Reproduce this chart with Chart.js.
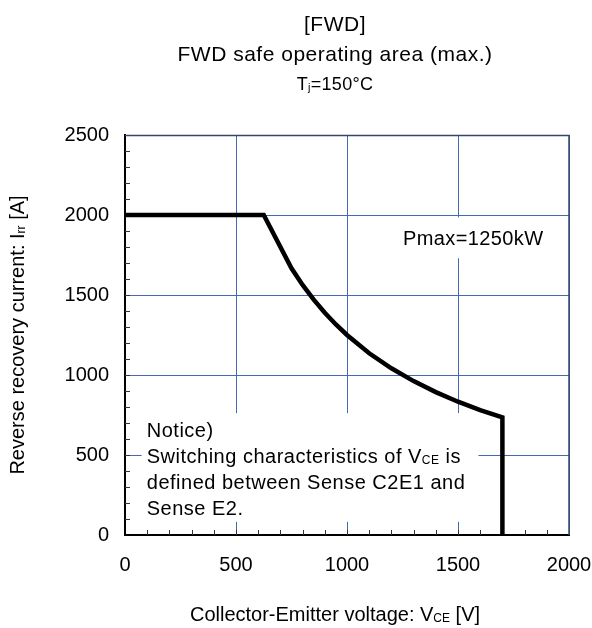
<!DOCTYPE html>
<html><head><meta charset="utf-8">
<script src="https://cdn.jsdelivr.net/npm/chart.js@4.4.0/dist/chart.umd.min.js"></script>
<style>html,body{margin:0;padding:0;background:#fff;overflow:hidden}</style>
</head><body>
<canvas id="c" width="592" height="628"></canvas>
<script>
// ---- data ----
const voltage = [0, 625, 750, 800, 850, 900, 950, 1000, 1100, 1200, 1300, 1400, 1500, 1600, 1700, 1700];
const current = [2000, 2000, 1667, 1563, 1471, 1389, 1316, 1250, 1136, 1042, 962, 893, 833, 781, 735, 0];
const xTickValues = [0, 500, 1000, 1500, 2000];
const yTickValues = [0, 500, 1000, 1500, 2000, 2500];
const titleLines = ["[FWD]", "FWD safe operating area (max.)"];
const conditionText = [["T", 1], ["j", 0.6], ["=150°C", 1]];
const xTitle = [["Collector-Emitter voltage: V", 1], ["CE", 0.6], [" [V]", 1]];
const yTitle = [["Reverse recovery current: I", 1], ["rr", 0.6], [" [A]", 1]];
const noticeLines = [
  [["Notice)", 1]],
  [["Switching characteristics of V", 1], ["CE", 0.6], [" is", 1]],
  [["defined between Sense C2E1 and", 1]],
  [["Sense E2.", 1]]
];
const pmaxText = "Pmax=1250kW";

const FONT = "'Liberation Sans', Arial, sans-serif";
const points = voltage.map((v, i) => ({x: v, y: current[i]}));

function richWidth(ctx, segs, size, ls) {
  let w = 0;
  for (const [t, s] of segs) {
    ctx.font = (size * s) + "px " + FONT;
    ctx.letterSpacing = ls + "px";
    w += ctx.measureText(t).width;
  }
  return w;
}
function drawRich(ctx, segs, x, y, size, ls, align) {
  const w = richWidth(ctx, segs, size, ls);
  let cx = align === "center" ? x - w / 2 : x;
  ctx.textAlign = "left";
  ctx.textBaseline = "alphabetic";
  for (const [t, s] of segs) {
    ctx.font = (size * s) + "px " + FONT;
    ctx.letterSpacing = ls + "px";
    ctx.fillText(t, cx, y + (s < 1 ? 1 : 0));
    cx += ctx.measureText(t).width;
  }
}

const decor = {
  id: "decor",
  beforeDatasetsDraw(chart) {
    const {ctx, scales: {x, y}, chartArea: a} = chart;
    ctx.save();
    // minor ticks
    ctx.strokeStyle = "#333";
    ctx.lineWidth = 1;
    ctx.beginPath();
    for (let v = 100; v < 2500; v += 100) {
      const py = Math.round(y.getPixelForValue(v)) + 0.5;
      ctx.moveTo(a.left, py); ctx.lineTo(a.left + 5, py);
    }
    for (let v = 100; v < 2000; v += 100) {
      const px = Math.round(x.getPixelForValue(v)) + 0.5;
      ctx.moveTo(px, a.bottom); ctx.lineTo(px, a.bottom - 5);
    }
    ctx.stroke();
    // white label backgrounds
    ctx.fillStyle = "#fff";
    const nx0 = x.getPixelForValue(75), nx1 = x.getPixelForValue(1592);
    const ny0 = y.getPixelForValue(762), ny1 = y.getPixelForValue(82);
    ctx.fillRect(nx0, ny0, nx1 - nx0, ny1 - ny0);
    const px0 = x.getPixelForValue(1220), px1 = x.getPixelForValue(1910);
    const py0 = y.getPixelForValue(1985), py1 = y.getPixelForValue(1730);
    ctx.fillRect(px0, py0, px1 - px0, py1 - py0);
    // top and right frame
    ctx.strokeStyle = "#34466e";
    ctx.lineWidth = 1.5;
    ctx.beginPath();
    ctx.moveTo(a.left, a.top + 0.5); ctx.lineTo(a.right, a.top + 0.5);
    ctx.lineTo(a.right, a.bottom);
    ctx.stroke();
    ctx.restore();
  },
  afterDraw(chart) {
    const {ctx, scales: {x, y}, chartArea: a} = chart;
    ctx.save();
    ctx.fillStyle = "#000";
    drawRich(ctx, [[titleLines[0], 1]], 335, 31, 21, 0.5, "center");
    drawRich(ctx, [[titleLines[1], 1]], 335, 61, 21, 0.5, "center");
    drawRich(ctx, conditionText, 335, 90, 18, 0.3, "center");
    drawRich(ctx, xTitle, 335, 621, 20, 0, "center");
    ctx.save();
    ctx.translate(24, (a.top + a.bottom) / 2);
    ctx.rotate(-Math.PI / 2);
    drawRich(ctx, yTitle, 0, 0, 20, 0, "center");
    ctx.restore();
    const nx = x.getPixelForValue(98);
    let ny = 437;
    for (const line of noticeLines) {
      drawRich(ctx, line, nx, ny, 20, 0.5, "left");
      ny += 26;
    }
    drawRich(ctx, [[pmaxText, 1]], x.getPixelForValue(1252), 245, 20, 0.4, "left");
    ctx.restore();
  }
};

new Chart(document.getElementById("c"), {
  type: "scatter",
  data: {
    datasets: [{
      data: points,
      showLine: true,
      borderColor: "#000",
      borderWidth: 4.5,
      pointRadius: 0,
      tension: 0,
      borderJoinStyle: "miter"
    }]
  },
  options: {
    responsive: false,
    animation: false,
    devicePixelRatio: 1,
    layout: {padding: {left: 0, right: 0, top: 135, bottom: 0}},
    plugins: {legend: {display: false}, tooltip: {enabled: false}, title: {display: false}},
    scales: {
      x: {
        type: "linear", min: 0, max: 2000,
        afterBuildTicks: s => { s.ticks = xTickValues.map(v => ({value: v})); },
        afterFit: s => { s.height = 93; s.paddingLeft = 0; s.paddingRight = 23; },
        ticks: {color: "#000", font: {size: 20, family: FONT}, padding: 18, maxRotation: 0,
                callback: v => String(v)},
        grid: {color: "#4369b4", lineWidth: 1, drawTicks: false},
        border: {color: "#000", width: 2}
      },
      y: {
        type: "linear", min: 0, max: 2500,
        afterBuildTicks: s => { s.ticks = yTickValues.map(v => ({value: v})); },
        afterFit: s => { s.width = 125; s.paddingTop = 0; s.paddingBottom = 0; },
        ticks: {color: "#000", font: {size: 20, family: FONT}, padding: 16,
                callback: v => String(v)},
        grid: {color: "#4369b4", lineWidth: 1, drawTicks: false},
        border: {color: "#000", width: 2}
      }
    }
  },
  plugins: [decor]
});
</script>
</body></html>
